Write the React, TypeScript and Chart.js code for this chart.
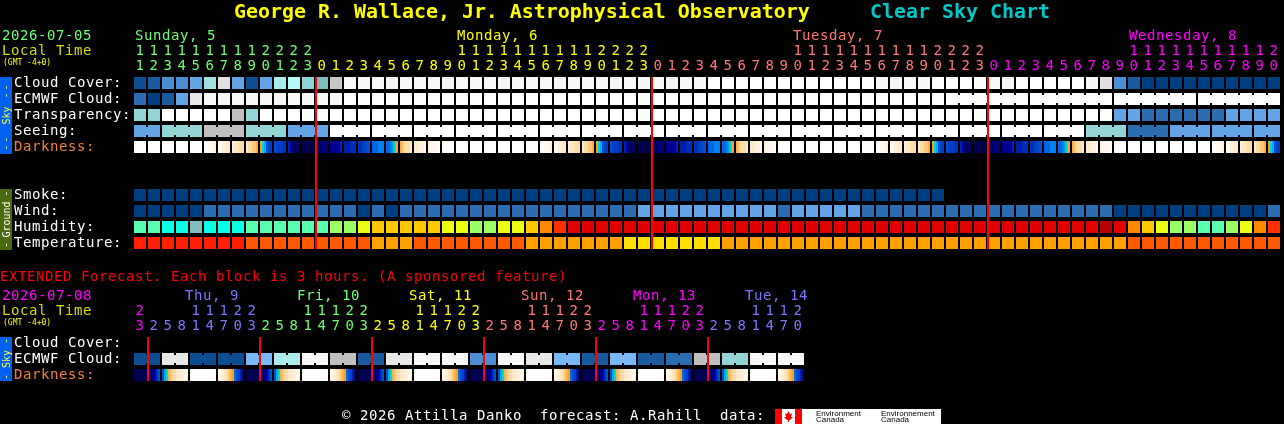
import React, { useEffect, useRef } from "react";
import { Chart, registerables } from "chart.js";

Chart.register(...registerables);

// ---------- text ----------
const titleMain = "George R. Wallace, Jr. Astrophysical Observatory";
const titleSub = "Clear Sky Chart";
const extendedNote = "EXTENDED Forecast. Each block is 3 hours. (A sponsored feature)";
const footerText = "\u00a9 2026 Attilla Danko  forecast: A.Rahill  data:";
const dateMain = "2026-07-05";
const dateExtended = "2026-07-08";
const localTime = "Local Time";
const gmtNote = "(GMT -4+0)";
const skyLabels = ["Cloud Cover:", "ECMWF Cloud:", "Transparency:", "Seeing:", "Darkness:"];
const groundLabels = ["Smoke:", "Wind:", "Humidity:", "Temperature:"];
const extendedLabels = ["Cloud Cover:", "ECMWF Cloud:", "Darkness:"];

// ---------- hours and days ----------
const dayNames = ["Sunday, 5", "Monday, 6", "Tuesday, 7", "Wednesday, 8"];
const dayNameCells = [0, 23, 47, 71];
const dayStartCells = [0, 13, 37, 61];
const hours = [
  11, 12, 13, 14, 15, 16, 17, 18, 19, 20, 21, 22, 23,
  0, 1, 2, 3, 4, 5, 6, 7, 8, 9, 10, 11, 12, 13, 14, 15, 16, 17, 18, 19, 20, 21, 22, 23,
  0, 1, 2, 3, 4, 5, 6, 7, 8, 9, 10, 11, 12, 13, 14, 15, 16, 17, 18, 19, 20, 21, 22, 23,
  0, 1, 2, 3, 4, 5, 6, 7, 8, 9, 10, 11, 12, 13, 14, 15, 16, 17, 18, 19, 20,
];
const midnightCells = [13, 37, 61];

const extDayNames = ["Thu, 9", "Fri, 10", "Sat, 11", "Sun, 12", "Mon, 13", "Tue, 14"];
const extDayStarts = [1, 9, 17, 25, 33, 41];
const extHours = [
  23,
  2, 5, 8, 11, 14, 17, 20, 23,
  2, 5, 8, 11, 14, 17, 20, 23,
  2, 5, 8, 11, 14, 17, 20, 23,
  2, 5, 8, 11, 14, 17, 20, 23,
  2, 5, 8, 11, 14, 17, 20, 23,
  2, 5, 8, 11, 14, 17, 20,
];
const extMidnights = [1, 9, 17, 25, 33, 41];

// ---------- series (indices into the colour tables) ----------
const cloudCover = [
  1, 2, 4, 4, 5, 10, 15, 5, 1, 5,
  11, 12, 8, 7, 14, 17, 17, 17, 17, 17,
  17, 17, 17, 17, 17, 17, 17, 17, 17, 17,
  17, 17, 17, 17, 17, 17, 17, 17, 17, 17,
  17, 18, 18, 18, 18, 18, 18, 18, 18, 18,
  18, 18, 18, 17, 17, 17, 17, 18, 18, 18,
  18, 17, 17, 18, 18, 18, 18, 18, 17, 15,
  4, 2, 0, 0, 0, 0, 0, 0, 0, 0,
  0, 0,
];
const ecmwfCloud = [
  3, 0, 2, 5, 16, 17, 17, 17, 17, 17,
  17, 17, 17, 17, 17, 18, 18, 18, 18, 18,
  18, 18, 18, 18, 18, 18, 18, 18, 18, 18,
  18, 18, 18, 18, 18, 18, 18, 18, 18, 18,
  18, 18, 18, 18, 18, 18, 18, 18, 18, 18,
  18, 18, 18, 18, 18, 18, 18, 18, 18, 18,
  18, 18, 18, 18, 18, 18, 18, 18, 18, 18,
  18, 18, 18, 18, 18, 18, 18, 18, 18, 18,
  18, 18,
];
const ecmwfSpans = [[58, 6], [64, 6], [70, 6], [76, 6]];
const transparency = [
  9, 9, 18, 18, 18, 18, 18, 13, 9, 18,
  18, 18, 18, 18, 18, 18, 18, 18, 18, 18,
  18, 18, 18, 18, 18, 18, 18, 18, 18, 18,
  18, 18, 18, 18, 18, 18, 18, 18, 18, 18,
  18, 18, 18, 18, 18, 18, 18, 18, 18, 18,
  18, 18, 18, 18, 18, 18, 18, 18, 18, 18,
  18, 18, 18, 18, 18, 18, 18, 18, 18, 18,
  5, 5, 3, 3, 3, 3, 3, 3, 5, 5,
  5, 5,
];
const seeingSpanSizes = [2, 3, 3, 3, 3, 3, 3, 3, 3, 3, 3, 3, 3, 3, 3, 3, 3, 3, 3, 3, 3, 3, 3, 3, 3, 3, 3, 2];
const seeingValues = [5, 9, 13, 9, 5, 18, 18, 18, 18, 18, 18, 18, 18, 18, 18, 18, 18, 18, 18, 18, 18, 18, 18, 9, 3, 5, 5, 5];

const darknessCells = [
  "WWWWWW", "WWWWWW", "WWWWWW", "WWWWWW", "WWWWWW", "WWaaab", "aabbcc", "bccddd", "cddeef", "gtsxyy", "xyyyzz", "ABCDDE", "EEEEEE",
  "DDDCCC", "CBBBBA", "AAAzzz", "zzyyxx", "vvvuuu", "vvustg", "fedddc", "ccbbba", "baaaaW", "aWWWWW", "WWWWWW",
  "WWWWWW", "WWWWWW", "WWWWWW", "WWWWWW", "WWWWWW", "WWaaab", "aabbcc", "bccddd", "cddeef", "gtsxyy", "xyyyzz", "ABCDDE", "EEEEEE",
  "DDDCCC", "CBBBBA", "AAAzzz", "zzyyxx", "vvvuuu", "vvustg", "fedddc", "ccbbba", "baaaaW", "aWWWWW", "WWWWWW",
  "WWWWWW", "WWWWWW", "WWWWWW", "WWWWWW", "WWWWWW", "WWaaab", "aabbcc", "bccddd", "cddeef", "gtsxyy", "xyyyzz", "ABCDDE", "EEEEEE",
  "DDDCCC", "CBBBBA", "AAAzzz", "zzyyxx", "vvvuuu", "vvustg", "fedddc", "ccbbba", "baaaaW", "aWWWWW", "WWWWWW",
  "WWWWWW", "WWWWWW", "WWWWWW", "WWWWWW", "WWWWWW", "WWaaab", "aabbcc", "bccddd", "cddeef", "gtsxyy",
];

const smoke = [
  0, 0, 0, 0, 0, 0, 0, 0, 0, 0,
  0, 0, 0, 0, 0, 0, 0, 0, 0, 0,
  0, 0, 0, 0, 0, 0, 0, 0, 0, 0,
  0, 0, 0, 0, 0, 0, 0, 0, 0, 0,
  0, 0, 0, 0, 0, 0, 0, 0, 0, 0,
  0, 0, 0, 0, 0, 0, 0, 0,
];
const wind = [
  0, 0, 0, 0, 0, 3, 3, 3, 3, 3,
  3, 3, 3, 3, 3, 3, 0, 3, 0, 3,
  3, 3, 3, 3, 3, 3, 3, 3, 3, 3,
  3, 3, 3, 3, 3, 3, 5, 5, 5, 5,
  5, 5, 5, 5, 5, 5, 3, 5, 5, 5,
  5, 5, 3, 3, 3, 3, 3, 3, 3, 3,
  3, 3, 3, 3, 3, 3, 3, 3, 3, 3,
  0, 0, 0, 0, 0, 0, 0, 0, 0, 0,
  0, 3,
];
const humidity = [
  0, 0, 1, 1, 2, 1, 1, 1, 0, 0,
  0, 0, 0, 0, 3, 3, 4, 5, 5, 5,
  5, 5, 4, 4, 3, 3, 4, 4, 5, 6,
  7, 8, 8, 8, 8, 8, 8, 8, 8, 8,
  8, 8, 8, 8, 8, 8, 8, 8, 8, 8,
  8, 8, 8, 8, 8, 8, 8, 8, 8, 8,
  8, 8, 8, 8, 8, 8, 8, 8, 8, 9,
  8, 6, 5, 4, 3, 3, 0, 0, 3, 4,
  6, 7,
];
const temperature = [
  0, 0, 0, 0, 0, 0, 0, 0, 1, 1,
  1, 1, 1, 1, 1, 1, 1, 2, 2, 2,
  1, 1, 1, 1, 1, 1, 1, 1, 2, 2,
  2, 2, 2, 2, 2, 3, 3, 3, 3, 3,
  3, 3, 2, 2, 2, 2, 2, 2, 2, 2,
  2, 2, 2, 2, 2, 2, 2, 2, 2, 2,
  2, 2, 2, 2, 2, 2, 2, 2, 2, 2,
  2, 1, 1, 1, 1, 1, 1, 1, 1, 1,
  1, 1,
];

const extCloud = [1, 16, 1, 1, 6, 11, 17, 13, 2, 16, 17, 17, 4, 17, 16, 6, 2, 6, 2, 3, 13, 9, 17, 17];
const extDarkness = [
  "EEEEEEEDDCBzx", "xstfeddccbbaa", "aWWWWWWWWWWWW", "abbcdefgvxyAC",
  "EEEEEEEDDCBzx", "xstfeddccbbaa", "aWWWWWWWWWWWW", "abbcdefgvxyAC",
  "EEEEEEEDDCBzx", "xstfeddccbbaa", "aWWWWWWWWWWWW", "abbcdefgvxyAC",
  "EEEEEEEDDCBzx", "xstfeddccbbaa", "aWWWWWWWWWWWW", "abbcdefgvxyAC",
  "EEEEEEEDDCBzx", "xstfeddccbbaa", "aWWWWWWWWWWWW", "abbcdefgvxyAC",
  "EEEEEEEDDCBzx", "xstfeddccbbaa", "aWWWWWWWWWWWW", "abbcdefgvxyAC",
];

// ---------- colour tables ----------
const skyColors = [
  "#003f7f", "#0d4e90", "#1a5a9e", "#2c6cb0", "#4b8ed4", "#63a4e6", "#78b8f8",
  "#7fbdbd", "#8dd6d6", "#93d5d5", "#a0e0e0", "#aaecec", "#b4f8f8", "#c0c0c0",
  "#c8c8c8", "#e0e0e0", "#e8e8e8", "#f7f7f7", "#ffffff",
];
const humidityColors = ["#5affaf", "#0affe6", "#80bcbc", "#9aff66", "#eaff14", "#ffc800", "#ff8800", "#ff3000", "#e00000", "#b80000"];
const temperatureColors = ["#ff2000", "#ff5a00", "#ff9f00", "#ffdf00"];
const darknessColors: Record<string, string> = {
  W: "#ffffff", a: "#fff8ee", b: "#fff0dc", c: "#ffe8c8", d: "#ffdca8", e: "#ffc878", f: "#ffb040", g: "#ffa020",
  t: "#00d8d8", s: "#00a8f0", u: "#0080f0", v: "#0068e8", x: "#0050d8", y: "#0040c8", z: "#0030b8",
  A: "#0020a8", B: "#000098", C: "#000080", D: "#000068", E: "#000050",
};
const dayColors = ["#70ff70", "#ffff00", "#ff7878", "#ff00ff"];
const extDayColors = ["#7878ff", "#70ff70", "#ffff00", "#ff7878", "#ff00ff", "#7878ff"];

// ---------- layout: x unit = one 14px cell, y unit = one 16px row ----------
const PX_CELL = 14;
const PX_ROW = 16;
const X_MIN = -10;
const X_MAX = X_MIN + 1284 / PX_CELL;
const Y_MIN = -77 / PX_ROW;
const Y_MAX = Y_MIN + 424 / PX_ROW;
const CELL_H = 12 / PX_ROW;
const NOTCH = 2 / PX_ROW;
const ROW_SKY = [0, 1, 2, 3, 4];
const ROW_GROUND = [7, 8, 9, 10];
const ROW_EXT = [16.25, 17.25, 18.25];

const cellRow = (values: number[], row: number, colors: string[]) => ({
  type: "bar" as const,
  data: values.map((_, i) => ({ x: i, y: [row, row + CELL_H] })),
  backgroundColor: values.map((v) => colors[v]),
  barThickness: 12,
  grouped: false,
  inflateAmount: 0,
  borderWidth: 0,
});

const joinRow = (values: number[], spans: number[][], row: number, colors: string[]) => {
  const xs: number[] = [];
  const bg: string[] = [];
  spans.forEach(([start, size]) => {
    for (let k = 0; k < size - 1; k++) {
      xs.push(start + k + 0.5);
      bg.push(colors[values[start + k]]);
    }
  });
  return {
    type: "bar" as const,
    data: xs.map((x) => ({ x, y: [row + NOTCH, row + CELL_H - NOTCH] })),
    backgroundColor: bg,
    barThickness: 2,
    grouped: false,
    inflateAmount: 0,
    borderWidth: 0,
  };
};

const stripRow = (cells: string[], xOf: (i: number, k: number, n: number) => number, row: number) => {
  const data: any[] = [];
  const bg: string[] = [];
  cells.forEach((cell, i) => {
    cell.split("").forEach((ch, k) => {
      data.push({ x: xOf(i, k, cell.length), y: [row, row + CELL_H] });
      bg.push(darknessColors[ch]);
    });
  });
  return { type: "bar" as const, data, backgroundColor: bg, barThickness: 2, grouped: false, inflateAmount: 0, borderWidth: 0 };
};

const redLines = (cells: number[], top: number, bottom: number) => ({
  type: "bar" as const,
  data: cells.map((c) => ({ x: c - 6 / PX_CELL, y: [top, bottom] })),
  backgroundColor: "#ff0000",
  barThickness: 2,
  grouped: false,
  inflateAmount: 0,
  borderWidth: 0,
  order: -1,
});

// expand per-span values into per-cell values
const seeingCells: number[] = [];
const seeingSpans: number[][] = [];
seeingSpanSizes.forEach((size, g) => {
  seeingSpans.push([seeingCells.length, size]);
  for (let k = 0; k < size; k++) seeingCells.push(seeingValues[g]);
});

const extCells: number[] = [];
const extSpans: number[][] = [];
extCloud.forEach((v) => {
  extSpans.push([extCells.length, 2]);
  extCells.push(v, v);
});

const MONO = "'DejaVu Sans Mono', monospace";
const MAIN_FONT = `14px ${MONO}`;
const TITLE_FONT = `bold 19.93px ${MONO}`;

const textPlugin = {
  id: "csc-text",
  afterDatasetsDraw(chart: any) {
    const { ctx, scales } = chart;
    const xs = scales.x;
    const ys = scales.y;
    const put = (s: string, x: number, y: number, color: string, font = MAIN_FONT) => {
      ctx.font = font;
      ctx.letterSpacing = font === MAIN_FONT ? "0.57px" : "0px";
      ctx.fillStyle = color;
      ctx.fillText(s, x, y);
    };
    const side = (s: string, dashes: number[], top: number, bottom: number, bg: string, fg: string) => {
      ctx.fillStyle = bg;
      ctx.fillRect(0, top, 12, bottom - top);
      ctx.letterSpacing = "0px";
      ctx.font = `10px ${MONO}`;
      ctx.fillStyle = fg;
      ctx.textAlign = "center";
      ctx.save();
      ctx.translate(10, (top + bottom) / 2);
      ctx.rotate(-Math.PI / 2);
      ctx.fillText(s, 0, 0);
      ctx.restore();
      dashes.forEach((d) => {
        ctx.save();
        ctx.translate(9, d);
        ctx.rotate(-Math.PI / 2);
        ctx.fillText("-", 0, 0);
        ctx.restore();
      });
      ctx.textAlign = "left";
    };
    const rowBase = (r: number) => Math.round(ys.getPixelForValue(r)) + 10;
    ctx.save();
    ctx.textAlign = "left";
    ctx.textBaseline = "alphabetic";

    put(titleMain, 234, 18, "#ffff00", TITLE_FONT);
    put(titleSub, 870, 18, "#00c8c8", TITLE_FONT);

    put(dateMain, 2, 40, "#70ff70");
    put(localTime, 2, 55, "#d8d800");
    put(gmtNote, 3, 65, "#ffff00", `8px ${MONO}`);

    dayNames.forEach((d, k) => put(d, xs.getPixelForValue(dayNameCells[k]) - 5, 40, dayColors[k]));
    const dayOf = (i: number) => {
      let k = 0;
      dayStartCells.forEach((s, j) => { if (i >= s) k = j; });
      return k;
    };
    ctx.textAlign = "center";
    hours.forEach((h, i) => {
      const x = xs.getPixelForValue(i);
      if (h >= 10) put(String(Math.floor(h / 10)), x, 55, dayColors[dayOf(i)]);
      put(String(h % 10), x, 70, dayColors[dayOf(i)]);
    });
    ctx.textAlign = "left";

    skyLabels.forEach((s, i) => put(s, 14, rowBase(ROW_SKY[i]), i === 4 ? "#f08038" : "#ffffff"));
    groundLabels.forEach((s, i) => put(s, 14, rowBase(ROW_GROUND[i]), "#ffffff"));
    side("Sky", [87.5, 95.5, 139.5, 147.5], 77, 154, "#0060f0", "#ffff40");
    side("Ground", [193.5, 245], 189, 250, "#4b6a10", "#ffffff");

    put(extendedNote, 0, 281, "#ff0000");
    put(dateExtended, 2, 300, "#ff00ff");
    put(localTime, 2, 315, "#d8d800");
    put(gmtNote, 3, 325, "#ffff00", `8px ${MONO}`);
    extDayNames.forEach((d, k) => put(d, xs.getPixelForValue(extDayStarts[k]) + 31, 300, extDayColors[k]));
    ctx.textAlign = "center";
    extHours.forEach((h, i) => {
      let c = "#ff00ff";
      extDayStarts.forEach((s, j) => { if (i >= s) c = extDayColors[j]; });
      const x = xs.getPixelForValue(i);
      if (h >= 10) put(String(Math.floor(h / 10)), x, 315, c);
      put(String(h % 10), x, 330, c);
    });
    ctx.textAlign = "left";
    extendedLabels.forEach((s, i) => put(s, 14, rowBase(ROW_EXT[i]), i === 2 ? "#f08038" : "#ffffff"));
    side("Sky", [341, 377], 337, 381, "#0060f0", "#ffff40");

    put(footerText, 342, 420, "#ffffff");

    // data source logo
    ctx.letterSpacing = "0px";
    ctx.fillStyle = "#ffffff";
    ctx.fillRect(775, 409, 166, 15);
    ctx.fillStyle = "#ff0000";
    ctx.fillRect(775, 409, 7, 15);
    ctx.fillRect(795, 409, 7, 15);
    ctx.beginPath();
    [[788.5, 411], [790, 414], [792, 413.5], [791, 417], [793, 417], [790, 420], [789, 420], [789, 422], [788, 422], [788, 420], [787, 420], [784, 417], [786, 417], [785, 413.5], [787, 414]]
      .forEach(([x, y], i) => (i ? ctx.lineTo(x, y) : ctx.moveTo(x, y)));
    ctx.closePath();
    ctx.fill();
    const logo = "8px 'Liberation Sans', sans-serif";
    put("Environment", 816, 416, "#000000", logo);
    put("Canada", 816, 422, "#000000", logo);
    put("Environnement", 881, 416, "#000000", logo);
    put("Canada", 881, 422, "#000000", logo);
    ctx.restore();
  },
};

export default function App() {
  const ref = useRef<HTMLCanvasElement>(null);
  useEffect(() => {
    document.body.style.background = "#000000";
    const chart = new Chart(ref.current as HTMLCanvasElement, {
      type: "bar",
      data: {
        datasets: [
          redLines(midnightCells, 0, 10.75),
          redLines(extMidnights, 16.25, 19),
          cellRow(cloudCover, ROW_SKY[0], skyColors),
          cellRow(ecmwfCloud, ROW_SKY[1], skyColors),
          joinRow(ecmwfCloud, ecmwfSpans, ROW_SKY[1], skyColors),
          cellRow(transparency, ROW_SKY[2], skyColors),
          cellRow(seeingCells, ROW_SKY[3], skyColors),
          joinRow(seeingCells, seeingSpans, ROW_SKY[3], skyColors),
          stripRow(darknessCells, (i, k, n) => i + (k - (n - 1) / 2) * (2 / PX_CELL), ROW_SKY[4]),
          cellRow(smoke, ROW_GROUND[0], skyColors),
          cellRow(wind, ROW_GROUND[1], skyColors),
          cellRow(humidity, ROW_GROUND[2], humidityColors),
          cellRow(temperature, ROW_GROUND[3], temperatureColors),
          cellRow(extCells, ROW_EXT[1], skyColors),
          joinRow(extCells, extSpans, ROW_EXT[1], skyColors),
          stripRow(extDarkness, (i, k, n) => i * 2 + 0.5 + (k - (n - 1) / 2) * (2 / PX_CELL), ROW_EXT[2]),
        ] as any,
      },
      options: {
        animation: false,
        responsive: false,
        devicePixelRatio: 1,
        layout: { padding: 0 },
        plugins: { legend: { display: false }, title: { display: false }, tooltip: { enabled: false } },
        events: [],
        scales: {
          x: { type: "linear", display: false, min: X_MIN, max: X_MAX, offset: false, grid: { display: false } },
          y: { type: "linear", display: false, min: Y_MIN, max: Y_MAX, reverse: true, grid: { display: false } },
        },
      } as any,
      plugins: [textPlugin],
    });
    return () => chart.destroy();
  }, []);
  return (
    <div style={{ position: "fixed", left: 0, top: 0, width: 1284, height: 424, background: "#000000" }}>
      <canvas ref={ref} width={1284} height={424} style={{ display: "block" }} />
    </div>
  );
}
